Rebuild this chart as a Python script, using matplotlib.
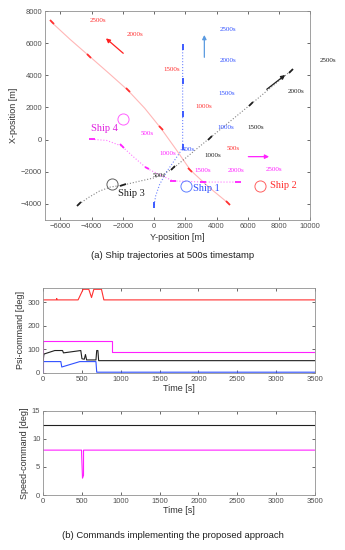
import numpy as np
import matplotlib
matplotlib.use("Agg")
import matplotlib.pyplot as plt
from matplotlib.markers import MarkerStyle
from matplotlib.transforms import Affine2D

plt.rcParams['font.family'] = ['Liberation Sans', 'DejaVu Sans']

# ---- (a) trajectories: (Y-position, X-position) waypoints in metres ----
red_y = [-6570, -5400, -4160, -2900, -1700, -600, 440, 1400, 2320, 3500, 4760]
red_x = [7300, 6250, 5200, 4130, 3090, 1950, 700, -600, -1890, -2950, -3960]
red_dash = [0, 2, 4, 6, 8, 10]

blue_y = [0, 100, 350, 800, 1300, 1650, 1830, 1830, 1830, 1830]
blue_x = [-4070, -3500, -2800, -2000, -1300, -800, -440, 1575, 3665, 5780]
blue_dash = [0, 6, 7, 8, 9]

black_y = [-4820, -4200, -3500, -2800, -2000, -1000, 0, 600, 1230, 3585, 6200, 8780]
black_x = [-4020, -3600, -3200, -2950, -2830, -2600, -2380, -2150, -1780, 110, 2200, 4290]
black_dash = [0, 4, 8, 9, 10, 11]

mag_y = [-4005, -3040, -2080, -1335, -480, 380, 1230, 3160, 5400]
mag_x = [20, -50, -400, -1060, -1780, -2200, -2570, -2640, -2640]
mag_dash = [0, 2, 4, 6, 7, 8]

# arrows (tail -> head)
red_arrow = [(-1977, 5370), (-3087, 6300)]
blue_arrow = [(3220, 5120), (3220, 6510)]
black_arrow = [(7220, 3130), (8400, 4020)]
mag_arrow = [(6040, -1060), (7370, -1060)]

# ship circles
ship_names = ['Ship 1', 'Ship 2', 'Ship 3', 'Ship 4']
ship_circ_y = [2025, 6790, -2680, -1977]
ship_circ_x = [-2865, -2860, -2780, 1280]
ship_txt_y = [3370, 8300, -1483, -3150]
ship_txt_x = [-3030, -2860, -3340, 700]

# time labels
time_labels = ['500s', '1000s', '1500s', '2000s', '2500s']
red_lbl_y = [5080, 3155, 1104, -1226, -3580]
red_lbl_x = [-540, 2050, 4370, 6550, 7380]
blue_lbl_y = [2190, 4610, 4650, 4760, 4760]
blue_lbl_x = [-600, 740, 2840, 4950, 6860]
black_lbl_y = [330, 3735, 6535, 9100, 11175]
black_lbl_x = [-2240, -990, 740, 2980, 4890]
mag_lbl_y = [-440, 910, 3115, 5250, 7690]
mag_lbl_x = [390, -850, -1930, -1930, -1850]

# ---- (b) commands ----
red_t = [0, 170, 175, 180, 450, 515, 588, 623, 653, 751, 782, 3500]
red_psi = [310, 310, 316, 310, 310, 355, 355, 320, 355, 355, 310, 310]
mag_t = [0, 0, 890, 890, 3500]
mag_psi = [0, 135, 135, 90, 90]
blk_t = [0, 10, 150, 250, 262, 485, 500, 530, 545, 560, 680, 690, 705, 715, 3500]
blk_psi = [50, 80, 95, 95, 85, 95, 60, 58, 78, 55, 55, 95, 95, 52, 52]
blu_t = [0, 0, 228, 240, 472, 680, 690, 3500]
blu_psi = [0, 48, 48, 25, 48, 48, 3, 3]

spd_t_black = [0, 3500]
spd_black = [12.5, 12.5]
spd_t_mag = [0, 495, 495, 507, 520, 520, 3500]
spd_mag = [8, 8, 7.5, 3, 3.5, 8, 8]

RED = '#ff3030'
BLUE = '#3050ff'
BLACK = '#202020'
MAG = '#ff20ff'

fig = plt.figure(figsize=(3.45, 5.5), dpi=100)


def style(ax):
    ax.tick_params(direction='in', length=2.5, width=0.6, labelsize=5.5,
                   colors='#505050', top=True, right=True, pad=2)
    for s in ax.spines.values():
        s.set_color('#909090')
        s.set_linewidth(0.6)


ax = fig.add_axes([0.130, 0.600, 0.769, 0.380])
ax.set_xlim(-7000, 10000)
ax.set_ylim(-5000, 8000)
ax.set_xticks(np.arange(-6000, 10001, 2000))
ax.set_yticks(np.arange(-4000, 8001, 2000))
style(ax)
ax.set_xlabel('Y-position [m]', fontsize=6.5, labelpad=2, color='#303030')
ax.set_ylabel('X-position [m]', fontsize=6.5, labelpad=2, color='#303030')

paths = [(red_y, red_x, red_dash, RED, '-', 0.35), (blue_y, blue_x, blue_dash, BLUE, ':', 0.7),
         (black_y, black_x, black_dash, BLACK, ':', 0.55), (mag_y, mag_x, mag_dash, MAG, ':', 0.6)]
for py, px, dash, c, ls, al in paths:
    ax.plot(py, px, ls, color=c, lw=0.8, alpha=al)
    pts = ax.transData.transform(np.column_stack([py, px]))
    for i in dash:
        j = i + 1 if i + 1 < len(py) else i - 1
        d = pts[j] - pts[i]
        ang = np.degrees(np.arctan2(d[1], d[0]))
        m = MarkerStyle('_', transform=Affine2D().rotate_deg(ang))
        ax.plot(py[i], px[i], marker=m, color=c, ms=4, mew=1.3, ls='none')

for arr, c in [(red_arrow, '#ff2020'), (blue_arrow, '#5a9ae0'),
               (black_arrow, BLACK), (mag_arrow, MAG)]:
    ax.annotate('', xy=arr[1], xytext=arr[0],
                arrowprops=dict(arrowstyle='-|>', color=c, lw=0.9,
                                mutation_scale=6, shrinkA=0, shrinkB=0))

circ_cols = ['#6080ff', '#ff6060', '#606060', '#ff60ff']
txt_cols = ['#3050ff', '#ff3030', '#202020', '#e020e0']
for k in range(4):
    ax.plot(ship_circ_y[k], ship_circ_x[k], 'o', mfc='none', mec=circ_cols[k],
            ms=8, mew=0.7)
    ax.text(ship_txt_y[k], ship_txt_x[k], ship_names[k], fontsize=7.5,
            family='Liberation Serif', color=txt_cols[k], ha='center', va='center')

for ly, lx, c in [(red_lbl_y, red_lbl_x, RED), (blue_lbl_y, blue_lbl_x, BLUE),
                  (black_lbl_y, black_lbl_x, BLACK), (mag_lbl_y, mag_lbl_x, MAG)]:
    for k, t in enumerate(time_labels):
        ax.text(ly[k], lx[k], t, fontsize=5, family='Liberation Serif', color=c,
                ha='center', va='center', clip_on=False)

fig.text(0.5, 0.535, '(a) Ship trajectories at 500s timestamp', ha='center',
         va='center', fontsize=6.8, color='#202020')

# ---- psi command ----
ax2 = fig.add_axes([0.125, 0.322, 0.788, 0.155])
ax2.plot(red_t, red_psi, color=RED, lw=0.8)
ax2.plot(mag_t, mag_psi, color=MAG, lw=0.8)
ax2.plot(blk_t, blk_psi, color=BLACK, lw=0.8)
ax2.plot(blu_t, blu_psi, color=BLUE, lw=0.8)
ax2.set_xlim(0, 3500)
ax2.set_ylim(0, 362)
ax2.set_xticks(np.arange(0, 3501, 500))
ax2.set_yticks([0, 100, 200, 300])
style(ax2)
ax2.set_xlabel('Time [s]', fontsize=6.5, labelpad=1, color='#303030')
ax2.set_ylabel('Psi-command [deg]', fontsize=6.5, labelpad=2, color='#303030')

# ---- speed command ----
ax3 = fig.add_axes([0.125, 0.100, 0.788, 0.153])
ax3.plot(spd_t_black, spd_black, color=BLACK, lw=0.8)
ax3.plot(spd_t_mag, spd_mag, color=MAG, lw=0.8)
ax3.set_xlim(0, 3500)
ax3.set_ylim(0, 15)
ax3.set_xticks(np.arange(0, 3501, 500))
ax3.set_yticks([0, 5, 10, 15])
style(ax3)
ax3.set_xlabel('Time [s]', fontsize=6.5, labelpad=1, color='#303030')
ax3.set_ylabel('Speed-command [deg]', fontsize=6.5, labelpad=2, color='#303030')

fig.text(0.5, 0.027, '(b) Commands implementing the proposed approach',
         ha='center', va='center', fontsize=6.8, color='#202020')

fig.savefig('out.png', dpi=100)
